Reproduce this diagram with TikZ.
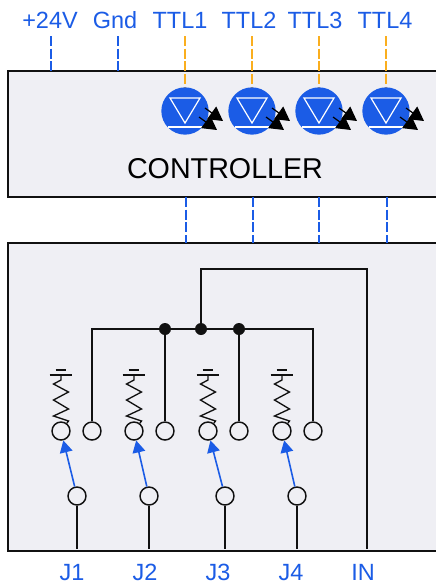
\documentclass[tikz,border=0pt]{standalone}
\usepackage{fontspec}
\setmainfont{Liberation Sans}
\usetikzlibrary{arrows.meta}
\definecolor{pblue}{HTML}{1B5CE6}
\definecolor{porange}{HTML}{FAAE1E}
\definecolor{pbox}{HTML}{EFEFF4}
\definecolor{pink}{HTML}{111111}
\tikzset{
  x=0.75pt,y=-0.75pt,
  panel/.style={draw=pink,fill=pbox,line width=1.1pt},
  wire/.style={draw=pink,line width=1.1pt},
  busdash/.style={draw=pblue,line width=1.1pt,dash pattern=on 7.5pt off 2pt},
  ttldash/.style={draw=porange,line width=1.1pt,dash pattern=on 7.5pt off 2pt},
  pinlabel/.style={text=pblue,font=\fontsize{17.6pt}{20pt}\selectfont,inner sep=0pt,anchor=base},
  term/.style={circle,draw=pink,fill=pbox,line width=1.1pt,minimum size=13.5pt,inner sep=0pt},
  junct/.style={circle,fill=pink,minimum size=9pt,inner sep=0pt},
  ledball/.style={circle,fill=pblue,minimum size=35.5pt,inner sep=0pt},
  ledmark/.style={draw=white,line width=.9pt},
  ledray/.style={draw=black,line width=.9pt,-{Triangle[length=10.5pt,width=11.5pt]}},
  switcharm/.style={draw=pblue,line width=1.2pt,-{Triangle[length=9pt,width=9.5pt]}},
}
\newcommand{\ledsym}[3]{%
  \node[ledball] (#1) at (#2,#3) {};
  \draw[ledmark] (#2-15,#3-13) -- (#2+15,#3-13) -- (#2,#3+12) -- cycle;
  \draw[ledmark] (#2-17,#3+16) -- (#2+17,#3+16);
  \draw[ledray] (#2+20,#3-3) -- (#2+38,#3+10);
  \draw[ledray] (#2+14,#3+6) -- (#2+32,#3+19);
}
\newcommand{\swgroup}[3]{%
  \node[term] (a#1) at (#2,431) {};
  \node[term] (b#1) at (#2+31,431) {};
  \node[term] (m#1) at (#3,496) {};
  \coordinate (g#1) at (#2,375);
  \coordinate (j#1) at (#3,549);
  \draw[wire] (m#1) -- (j#1);
  \draw[switcharm] (m#1) -- (a#1);
  \draw[pink,line width=1pt] ([xshift=-8.5pt]g#1) -- ([xshift=8.5pt]g#1);
  \draw[pink,line width=1pt] ([xshift=-4pt,yshift=3.75pt]g#1) -- ([xshift=4pt,yshift=3.75pt]g#1);
  \draw[pink,line width=1pt] (g#1) -- (#2,380) -- (#2-7.5,384) -- (#2+7.5,392) -- (#2-7.5,400) -- (#2+7.5,409) -- (#2-7.5,416) -- (#2+7.5,421) -- (a#1);
}
\begin{document}
\begin{tikzpicture}
\useasboundingbox (0,0) rectangle (436,583);
\fill[white] (0,0) rectangle (436,583);
\foreach \n/\x in {1/185,2/252,3/319,4/386}{
  \coordinate (tt\n) at (\x,36);
}
\coordinate (p24) at (51,36);
\coordinate (pg) at (118,36);
\draw[panel] (8,71) rectangle (440,197);
\draw[panel] (8,243) rectangle (440,551);
\draw[busdash] (p24) -- (51,71);
\draw[busdash] (pg) -- (118,71);
\foreach \n/\x in {1/186,2/253,3/319,4/387}{
  \draw[busdash] (\x,197) -- (\x,243);
}
\foreach \n/\x in {1/185,2/252,3/319,4/386}{
  \draw[ttldash] (tt\n) -- (\x,88);
  \ledsym{led\n}{\x}{111}
}
\node[font=\fontsize{21.5pt}{24pt}\selectfont,text=black,inner sep=0pt,anchor=base] (ctl) at (225,178) {CONTROLLER};
\foreach \t/\x in {+24V/50,Gnd/115,TTL1/180,TTL2/249,TTL3/315,TTL4/385}{
  \node[pinlabel] (l\t) at (\x,28) {\t};
}
\swgroup{1}{61}{77}
\swgroup{2}{134}{149}
\swgroup{3}{208}{225}
\swgroup{4}{282}{297}
\node[junct] (ja) at (165,329) {};
\node[junct] (jb) at (201,329) {};
\node[junct] (jc) at (239,329) {};
\coordinate (inp) at (367,549);
\draw[wire] (b1) -- (92,329) -- (ja) -- (jb) -- (jc) -- (313,329) -- (b4);
\draw[wire] (ja) -- (b2);
\draw[wire] (jc) -- (b3);
\draw[wire] (jb) -- (201,269) -- (367,269) -- (inp);
\foreach \t/\x in {J1/72,J2/145,J3/218,J4/291,IN/363}{
  \node[pinlabel] (l\t) at (\x,580) {\t};
}
\end{tikzpicture}
\end{document}
